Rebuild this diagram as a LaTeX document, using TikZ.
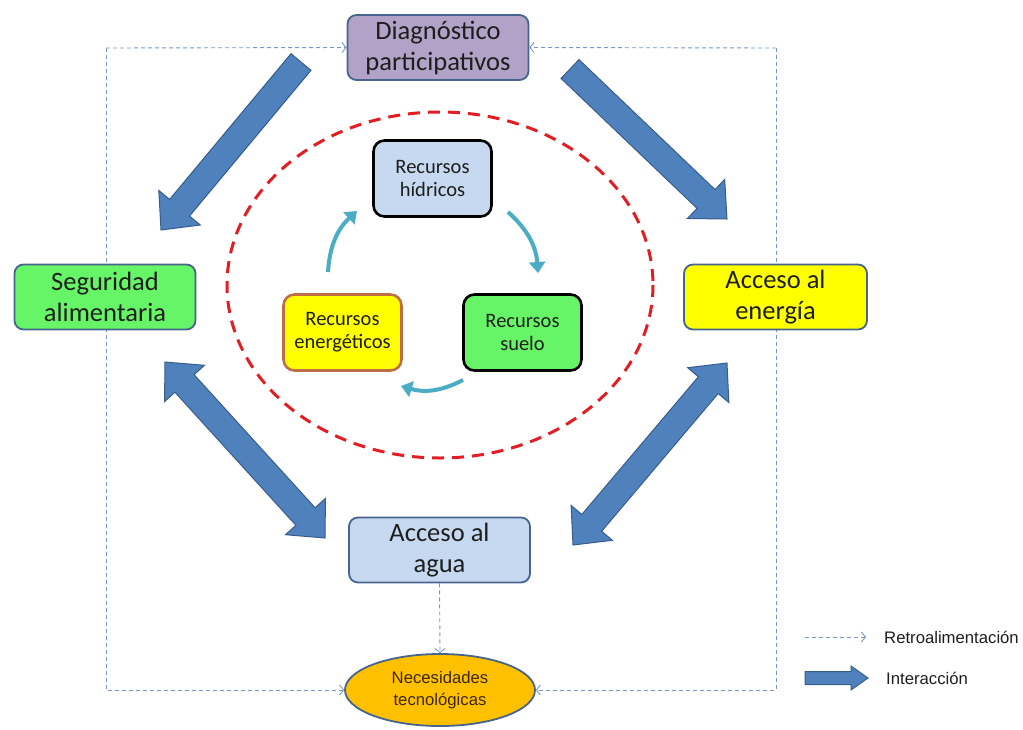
\documentclass[tikz,border=0pt]{standalone}
\usepackage{fontspec}
\setmainfont{Carlito}
\newfontfamily\arialf{Liberation Sans}
\usetikzlibrary{calc,arrows.meta,shapes.geometric,backgrounds}
\definecolor{txt}{RGB}{30,30,30}
\definecolor{boxborder}{RGB}{70,100,140}
\definecolor{lavender}{RGB}{179,162,199}
\definecolor{lgreen}{RGB}{102,245,102}
\definecolor{lyellow}{RGB}{255,255,0}
\definecolor{lblue}{RGB}{198,217,241}
\definecolor{lorange}{RGB}{255,192,0}
\definecolor{arrfill}{RGB}{79,129,189}
\definecolor{arrdraw}{RGB}{56,93,138}
\definecolor{fbcol}{RGB}{120,150,195}
\definecolor{reddash}{RGB}{225,30,35}
\definecolor{tealc}{RGB}{75,172,198}
\definecolor{brownb}{RGB}{190,110,70}
\newcommand{\bigarr}[5]{%
 \coordinate (hb) at ($(#2)!#5!(#1)$);
 \filldraw[bigarrow] ($(#1)!#3!90:(#2)$) -- ($(hb)!#3!90:(#2)$) -- ($(hb)!#4!90:(#2)$) -- (#2) -- ($(hb)!#4!-90:(#2)$) -- ($(hb)!#3!-90:(#2)$) -- ($(#1)!#3!-90:(#2)$) -- cycle;}
\newcommand{\dblarr}[5]{%
 \coordinate (ha) at ($(#1)!#5!(#2)$);
 \coordinate (hb) at ($(#2)!#5!(#1)$);
 \filldraw[bigarrow] (#1) -- ($(ha)!#4!90:(#2)$) -- ($(ha)!#3!90:(#2)$) -- ($(hb)!#3!90:(#2)$) -- ($(hb)!#4!90:(#2)$) -- (#2) -- ($(hb)!#4!-90:(#2)$) -- ($(hb)!#3!-90:(#2)$) -- ($(ha)!#3!-90:(#2)$) -- ($(ha)!#4!-90:(#2)$) -- cycle;}
\begin{document}
\begin{tikzpicture}[x=1pt,y=-1pt,
  mainbox/.style={draw=boxborder, line width=1.8pt, rounded corners=9pt, minimum width=181pt, minimum height=65pt, align=center, font=\fontsize{26.5}{31}\selectfont, text=txt, inner sep=0pt},
  resbox/.style={draw=black, line width=2.6pt, rounded corners=11pt, minimum width=118pt, minimum height=76pt, align=center, font=\fontsize{20.5}{23}\selectfont, text=txt, inner sep=0pt},
  feedback/.style={draw=fbcol, line width=0.9pt, dash pattern=on 4pt off 3pt, -{Straight Barb[length=4pt,width=10pt]}},
  cyc/.style={draw=tealc, line width=4pt, -{Triangle[length=11pt,width=16pt]}},
  bigarrow/.style={fill=arrfill, draw=arrdraw, line width=1pt, line join=miter},
  legend/.style={font=\arialf\fontsize{16.7}{19}\selectfont, text=txt, inner sep=0pt}]
\useasboundingbox (0,0) rectangle (1023,729);

% main nodes
\node[mainbox, fill=lavender] (diag) at (438,47.5) {Diagnóstico\\participativos};
\node[mainbox, fill=lgreen] (seg) at (105,297) {Seguridad\\alimentaria};
\node[mainbox, fill=lyellow, minimum width=183pt] (ene) at (775.5,297) {Acceso al\\energía};
\node[mainbox, fill=lblue] (agua) at (439.5,550) {Acceso al\\agua};
\node[ellipse, draw=boxborder, line width=1.8pt, fill=lorange, minimum width=190pt, minimum height=72pt, align=center, inner sep=0pt, text={rgb,255:red,60;green,40;blue,10}, font=\arialf\fontsize{16.7}{22}\selectfont] (nec) at (440,690) {Necesidades\\tecnológicas};

% inner nodes
\node[resbox, fill=lblue] (hid) at (432.5,178.5) {Recursos\\hídricos};
\node[resbox, fill=lyellow, draw=brownb] (enr) at (342.5,332.5) {Recursos\\energéticos};
\node[resbox, fill=lgreen, draw=black] (sue) at (522.5,332.5) {Recursos\\suelo};

% cycle arrows
\coordinate (t1s) at (328,272); \coordinate (t1e) at (357,211);
\coordinate (t2s) at (508,212); \coordinate (t2e) at (538,273);
\coordinate (t3s) at (463,380); \coordinate (t3e) at (401,386);
\draw[cyc] (t1s) to[bend left=22] (t1e);
\draw[cyc] (t2s) to[bend left=22] (t2e);
\draw[cyc] (t3s) to[bend left=22] (t3e);

% big interaction arrows
\coordinate (a1s) at (301,62);  \coordinate (a1e) at (161,230);
\coordinate (a2s) at (570,69);  \coordinate (a2e) at (727,219);
\coordinate (a3s) at (165,362); \coordinate (a3e) at (325,538);
\coordinate (a4s) at (727,363); \coordinate (a4e) at (573,545);
\bigarr{a1s}{a1e}{13pt}{27pt}{29pt}
\bigarr{a2s}{a2e}{13pt}{27pt}{29pt}
\dblarr{a3s}{a3e}{13pt}{27pt}{29pt}
\dblarr{a4s}{a4e}{13pt}{27pt}{29pt}

% legend
\coordinate (lg1s) at (805,637); \coordinate (lg1e) at (866,637);
\draw[feedback] (lg1s) -- (lg1e);
\node[legend, anchor=west] (lg1t) at (884,637) {Retroalimentación};
\coordinate (lg2s) at (805,678); \coordinate (lg2e) at (868,678);
\bigarr{lg2s}{lg2e}{6.5pt}{12pt}{17pt}
\node[legend, anchor=west] (lg2t) at (886,678) {Interacción};

\begin{scope}[on background layer]
  \draw[reddash, line width=3pt, dash pattern=on 12pt off 8pt] (440,285) ellipse [x radius=213, y radius=173];
  \coordinate (tl) at (106,48); \coordinate (tr) at (776,48);
  \coordinate (bl) at (106,690); \coordinate (br) at (776,690);
  \draw[feedback] (tl) -- (diag.west);
  \draw[feedback] (tl) -- (bl) -- (nec.west);
  \draw[feedback] (tr) -- (diag.east);
  \draw[feedback] (tr) -- (br) -- (nec.east);
  \draw[feedback] (agua.south) -- (nec.north);
\end{scope}
\end{tikzpicture}
\end{document}
